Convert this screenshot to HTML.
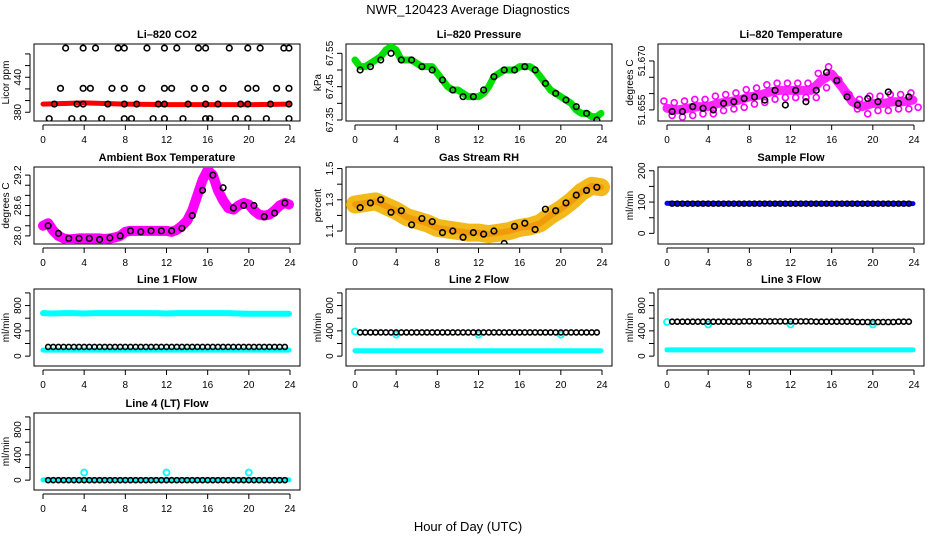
<!DOCTYPE html>
<html><head><meta charset="utf-8"><style>
html,body{margin:0;padding:0;background:#fff}
svg text{font-family:"Liberation Sans",sans-serif}
</style></head><body>
<svg id="c" width="936" height="540" viewBox="0 0 936 540" xmlns="http://www.w3.org/2000/svg">
<text x="468" y="14" font-size="13" text-anchor="middle">NWR_120423  Average Diagnostics</text>
<text x="468" y="531" font-size="13" text-anchor="middle">Hour of Day (UTC)</text>
</svg>
<script>
const hrsHalf=[0,0.5,1,1.5,2,2.5,3,3.5,4,4.5,5,5.5,6,6.5,7,7.5,8,8.5,9,9.5,10,10.5,11,11.5,12,12.5,13,13.5,14,14.5,15,15.5,16,16.5,17,17.5,18,18.5,19,19.5,20,20.5,21,21.5,22,22.5,23,23.5,23.9];
const hrs=[0,1,2,3,4,5,6,7,8,9,10,11,12,13,14,15,16,17,18,19,20,21,22,23,23.9];
const blackX=[0.5,1.5,2.5,3.5,4.5,5.5,6.5,7.5,8.5,9.5,10.5,11.5,12.5,13.5,14.5,15.5,16.5,17.5,18.5,19.5,20.5,21.5,22.5,23.5];
const blackX2=[0.5,1,1.5,2,2.5,3,3.5,4,4.5,5,5.5,6,6.5,7,7.5,8,8.5,9,9.5,10,10.5,11,11.5,12,12.5,13,13.5,14,14.5,15,15.5,16,16.5,17,17.5,18,18.5,19,19.5,20,20.5,21,21.5,22,22.5,23,23.5];
const xTicks=[0,4,8,12,16,20,24];
// CO2
const co2RedX=[0,4,8,12,16,20,23.9];
const co2Red=[394,396,394,393,393,393,394];
const co2TopX=[2.2,3.9,5.1,7.3,7.9,10.1,11.8,13,15.1,15.8,18.1,19.9,21.1,23.4,23.9];
const co2Top=[490,490,490,490,490,490,490,490,490,490,490,490,490,490,490];
const co2MidX=[1.7,3.9,4.6,6.7,7.9,9.6,11.8,12.5,14.7,15.8,17.5,19.9,20.7,22.7,23.9];
const co2Mid=[421,421,421,421,421,421,421,421,421,421,421,421,421,421,421];
const co2LowX=[1.1,3.3,3.9,6.3,7.9,9.1,11.2,11.8,14.1,15.8,17,19.2,19.9,22.1,23.9];
const co2Low=[394,394,394,394,394,394,394,394,394,394,394,394,394,394,394];
const co2BotX=[0.6,2.8,3.9,5.7,7.9,8.6,10.7,11.8,13.6,15.8,16.2,18.7,19.9,21.7,23.9];
const co2Bot=[369,369,369,369,369,369,369,369,369,369,369,369,369,369,369];
// Pressure
const presGreen=[67.53,67.51,67.51,67.52,67.53,67.54,67.56,67.57,67.56,67.53,67.53,67.53,67.52,67.51,67.51,67.51,67.49,67.47,67.45,67.44,67.44,67.43,67.42,67.42,67.42,67.43,67.45,67.48,67.49,67.50,67.50,67.50,67.51,67.51,67.51,67.50,67.48,67.46,67.44,67.43,67.42,67.41,67.40,67.38,67.37,67.37,67.36,67.36,67.37];
const presBlack=[67.50,67.51,67.53,67.55,67.53,67.53,67.51,67.50,67.47,67.44,67.42,67.42,67.44,67.48,67.50,67.50,67.51,67.50,67.46,67.43,67.41,67.39,67.37,67.35];
// Li-820 temp
const tempMag=[51.6555,51.655,51.6555,51.656,51.656,51.657,51.6575,51.658,51.659,51.6595,51.6605,51.661,51.661,51.661,51.661,51.664,51.666,51.662,51.6575,51.656,51.657,51.657,51.6575,51.6575,51.658];
const tempBlack=[51.6545,51.6545,51.656,51.6555,51.655,51.657,51.6575,51.6585,51.659,51.658,51.661,51.6565,51.661,51.6575,51.661,51.6665,51.664,51.659,51.6565,51.6585,51.6575,51.6605,51.657,51.659];
// Ambient
const ambMag=[28.2,28.25,28.1,28.0,27.95,27.93,27.94,27.95,27.95,27.95,27.95,27.95,27.94,27.95,27.97,28.0,28.08,28.1,28.1,28.1,28.1,28.1,28.1,28.1,28.1,28.08,28.12,28.2,28.3,28.5,28.8,29.1,29.3,29.2,28.9,28.7,28.55,28.52,28.6,28.65,28.62,28.5,28.42,28.4,28.42,28.5,28.6,28.65,28.62];
const ambBlack=[28.2,28.05,27.95,27.95,27.95,27.93,27.96,28.0,28.1,28.08,28.1,28.1,28.1,28.15,28.4,28.9,29.2,28.95,28.55,28.6,28.6,28.38,28.45,28.65];
// RH
const rhOrange=[1.27,1.28,1.29,1.26,1.23,1.19,1.17,1.15,1.12,1.11,1.10,1.09,1.09,1.08,1.09,1.10,1.12,1.13,1.15,1.20,1.24,1.29,1.35,1.39,1.38];
const rhBlack=[1.25,1.28,1.30,1.22,1.23,1.14,1.18,1.16,1.09,1.10,1.06,1.09,1.08,1.10,1.02,1.13,1.15,1.11,1.24,1.23,1.28,1.33,1.36,1.38];
// Flows
const sampleBlue=[96,95,95,95,95,95,95,95,95,95,95,95,95,95,95,95,95,95,95,95,95,95,95,95,95];
const sampleBlack=[95,95,95,95,95,95,95,95,95,95,95,95,95,95,95,95,95,95,95,95,95,95,95,95,95,95,95,95,95,95,95,95,95,95,95,95,95,95,95,95,95,95,95,95,95,95,95];
const l1Top=[680,675,680,680,675,680,680,680,680,680,680,680,675,680,680,680,680,680,680,675,670,670,670,670,670];
const l1Bot=[95,95,95,95,95,95,95,95,95,95,95,95,95,95,95,95,95,95,95,95,95,95,95,95,95];
const l1Black=[145,145,145,145,145,145,145,145,145,145,145,145,145,145,145,145,145,145,145,145,145,145,145,145,145,145,145,145,145,145,145,145,145,145,145,145,145,145,145,145,145,145,145,145,145,145,145];
const l2Bot=[85,85,85,85,85,85,85,85,85,85,85,85,85,85,85,85,85,85,85,85,85,85,85,85,85];
const l2CyanX=[0,4,12,20];
const l2Cyan=[390,340,340,340];
const l2Black=[375,375,375,375,375,375,375,375,375,375,375,375,375,375,375,375,375,375,375,375,375,375,375,375,375,375,375,375,375,375,375,375,375,375,375,375,375,375,375,375,375,375,375,375,375,375,375];
const l3Bot=[100,100,100,100,100,100,100,100,100,100,100,100,100,100,100,100,100,100,100,100,100,100,100,100,100];
const l3CyanX=[0,4,12,20];
const l3Cyan=[540,500,500,500];
const l3Black=[545,545,545,545,545,545,545,545,545,545,545,545,545,545,550,550,550,550,550,550,550,550,550,550,550,550,550,550,545,545,545,545,545,545,545,545,540,540,540,540,540,540,540,540,545,545,545];
const l4Cyan=[5,5,5,5,5,5,5,5,5,5,5,5,5,5,5,5,5,5,5,5,5,5,5,5,5];
const l4Black=[0,0,0,0,0,0,0,0,0,0,0,0,0,0,0,0,0,0,0,0,0,0,0,0,0,0,0,0,0,0,0,0,0,0,0,0,0,0,0,0,0,0,0,0,0,0,0];
const l4OutX=[4,12,20];
const l4Out=[120,120,120];

const svg=document.getElementById('c');
const NS='http://www.w3.org/2000/svg';
function mk(tag,at,parent){const e=document.createElementNS(NS,tag);for(const k in at)e.setAttribute(k,at[k]);(parent||svg).appendChild(e);return e;}

function panel(name,x0,y0,ylo,yhi,yticks,ylabels,title,ylab){
  const W=266,H=77;
  const g=mk('g',{});
  
  
  const sx=h=>x0+9+h/24*247;
  const sy=v=>y0+H-(v-ylo)/(yhi-ylo)*H;
  const r=mk('rect',{x:x0,y:y0,width:W,height:H,fill:'none',stroke:'#000','stroke-width':1},g);
  
  
  const t=mk('text',{x:x0+W/2,y:y0-6,'font-size':11,'font-weight':'bold','text-anchor':'middle'},g);
  t.textContent=title;
  
  
  mk('line',{x1:sx(0),x2:sx(24),y1:y0+H+4,y2:y0+H+4,stroke:'#000'},g);
  xTicks.forEach(v=>{
    mk('line',{x1:sx(v),x2:sx(v),y1:y0+H+4,y2:y0+H+9,stroke:'#000'},g);
    const tl=mk('text',{x:sx(v),y:y0+H+22,'font-size':10,'text-anchor':'middle'},g);
    tl.textContent=v;
    
    
  });
  const ax=x0-4;
  mk('line',{x1:ax,x2:ax,y1:sy(yticks[0]),y2:sy(yticks[yticks.length-1]),stroke:'#000'},g);
  yticks.forEach(v=>mk('line',{x1:ax-5,x2:ax,y1:sy(v),y2:sy(v),stroke:'#000'},g));
  ylabels.forEach(v=>{
    const tl=mk('text',{x:x0-13,y:sy(+v),'font-size':10,'text-anchor':'middle',transform:`rotate(-90 ${x0-13} ${sy(+v)})`},g);
    tl.textContent=v;
    
    
  });
  const yl=mk('text',{x:x0-25,y:y0+H/2,'font-size':10,'text-anchor':'middle',transform:`rotate(-90 ${x0-25} ${y0+H/2})`},g);
  yl.textContent=ylab;
  
  
  const clip='cl'+name;
  const cp=mk('clipPath',{id:clip},g);mk('rect',{x:x0,y:y0,width:W,height:H},cp);
  const dg=mk('g',{'clip-path':`url(#${clip})`},g);
  return {
    band(xs,vs,color,w,nm,op){
      const p=mk('polyline',{points:xs.map((x,i)=>sx(x)+','+sy(vs[i])).join(' '),fill:'none',stroke:color,'stroke-width':w,'stroke-linejoin':'round','stroke-linecap':'round',opacity:op||1},dg);
      
      
    },
    pts(xs,vs,color,nm,rad,sw){
      xs.forEach((x,i)=>{
        const c=mk('circle',{cx:sx(x),cy:sy(vs[i]),r:rad||2.8,fill:'none',stroke:color,'stroke-width':sw||1.6},dg);
        
        
      });
    }
  };
}
const C=[34,346,658], R=[44,167,289,413];
const flowT=[0,200,400,600,800,1000], flowL=['0','400','800'];

let p=panel('co2-panel',C[0],R[0],365,497,[380,400,420,440,460,480],['380','440'],'Li\u2013820 CO2','Licor ppm');
p.band(co2RedX,co2Red,'#ff0000',5,'co2-red-series');
p.pts(co2TopX,co2Top,'#000','co2-point');p.pts(co2MidX,co2Mid,'#000','co2-point');
p.pts(co2LowX,co2Low,'#000','co2-point');p.pts(co2BotX,co2Bot,'#000','co2-point');

p=panel('pressure-panel',C[1],R[0],67.347,67.578,[67.35,67.40,67.45,67.50,67.55],['67.35','67.45','67.55'],'Li\u2013820 Pressure','kPa');
p.band(hrsHalf,presGreen,'#00e000',7,'pressure-green-series');
p.pts(blackX,presBlack,'#000','pressure-black-point');

p=panel('temperature-panel',C[2],R[0],51.6516,51.6752,[51.655,51.660,51.665,51.670],['51.655','51.670'],'Li\u2013820 Temperature','degrees C');
p.band(hrs,tempMag,'#ff00ff',9,'temperature-magenta-series',0.85);
p.pts(hrsHalf.slice(0,25).map(v=>v*2-0.3).filter(v=>v<24),tempMag.map(v=>v+0.0022),'#ff00ff','temperature-magenta-point',3,1.6);
p.pts(hrs.map(v=>v+0.5),tempMag.map(v=>v-0.0022),'#ff00ff','temperature-magenta-point',3,1.6);
p.pts(blackX,tempBlack,'#000','temperature-black-point');

p=panel('ambient-panel',C[0],R[1],27.84,29.36,[28.0,28.2,28.4,28.6,28.8,29.0,29.2],['28.0','28.6','29.2'],'Ambient Box Temperature','degrees C');
p.band(hrsHalf,ambMag,'#ff00ff',10,'ambient-magenta-series');
p.pts(blackX,ambBlack,'#000','ambient-black-point');

p=panel('rh-panel',C[1],R[1],1.017,1.51,[1.1,1.2,1.3,1.4,1.5],['1.1','1.3','1.5'],'Gas Stream RH','percent');
p.band(hrs,rhOrange,'#f2b000',18,'rh-orange-series',0.9);
p.band(hrs,rhOrange,'#ee8800',6,'rh-orange-core',0.6);
p.pts(blackX,rhBlack,'#000','rh-black-point');

p=panel('sample-flow-panel',C[2],R[1],-34,212,[0,50,100,150,200],['0','100','200'],'Sample Flow','ml/min');
p.band(hrs,sampleBlue,'#0000ff',5,'sample-blue-series');
p.pts(blackX2,sampleBlack,'#000','sample-black-point',2.5,1.6);

p=panel('line1-panel',C[0],R[2],-156,1062,flowT,flowL,'Line 1 Flow','ml/min');
p.band(hrs,l1Top,'#00ffff',6,'line1-cyan-high');p.band(hrs,l1Bot,'#00ffff',5,'line1-cyan-low');
p.pts(blackX2,l1Black,'#000','line1-black-point',2.5,1.6);

p=panel('line2-panel',C[1],R[2],-156,1062,flowT,flowL,'Line 2 Flow','ml/min');
p.band(hrs,l2Bot,'#00ffff',5,'line2-cyan-low');
p.pts(l2CyanX,l2Cyan,'#00ffff','line2-cyan-point',3,1.8);
p.pts(blackX2,l2Black,'#000','line2-black-point',2.5,1.6);

p=panel('line3-panel',C[2],R[2],-156,1062,flowT,flowL,'Line 3 Flow','ml/min');
p.band(hrs,l3Bot,'#00ffff',5,'line3-cyan-low');
p.pts(l3CyanX,l3Cyan,'#00ffff','line3-cyan-point',3,1.8);
p.pts(blackX2,l3Black,'#000','line3-black-point',2.5,1.6);

p=panel('line4-panel',C[0],R[3],-156,1062,flowT,flowL,'Line 4 (LT) Flow','ml/min');
p.band(hrs,l4Cyan,'#00ffff',5,'line4-cyan-series');
p.pts(l4OutX,l4Out,'#00ffff','line4-cyan-outlier',3,1.8);
p.pts(blackX2,l4Black,'#000','line4-black-point',2.5,1.6);
</script>
</body></html>
